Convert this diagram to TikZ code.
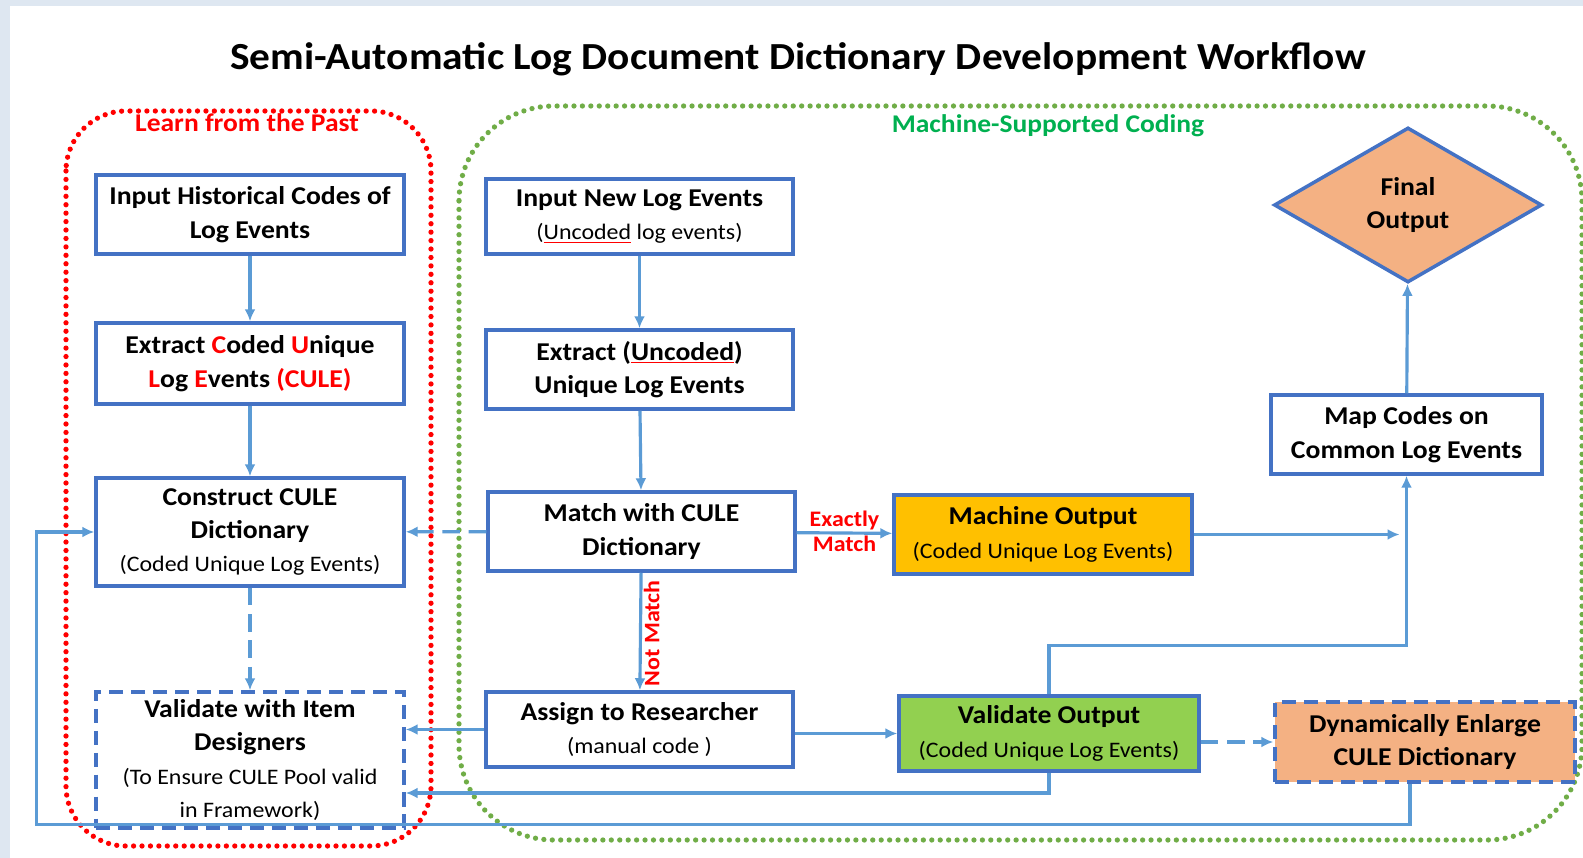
\documentclass[tikz,border=0pt]{standalone}
\usepackage{fontspec}
\setmainfont{Carlito}[FakeStretch=1.08]
\usetikzlibrary{arrows.meta,shapes.geometric,positioning,calc}
\definecolor{BoxLine}{HTML}{4472C4}
\definecolor{Wire}{HTML}{5B9BD5}
\definecolor{MachineFill}{HTML}{FFC000}
\definecolor{ValidFill}{HTML}{92D050}
\definecolor{EnlargeFill}{HTML}{F4B183}
\definecolor{PastRed}{HTML}{FF0000}
\definecolor{CodingGreen}{HTML}{00B050}
\definecolor{DotGreen}{HTML}{70AD47}
\definecolor{Frame}{HTML}{DEE7F1}
\newcommand{\subline}[1]{{\fontsize{12.6}{17}\selectfont\mdseries #1}}
\newcommand{\spellmark}[1]{\textcolor{PastRed}{\underline{\textcolor{black}{#1}}}}

\begin{document}
\begin{tikzpicture}[
    x=0.02cm, y=-0.02cm,
    proc/.style={draw=BoxLine, line width=2pt, fill=white, rectangle,
      minimum width=6.16cm, minimum height=1.58cm, inner sep=2pt, align=center,
      font=\bfseries\fontsize{14.6}{19}\selectfont},
    dproc/.style={proc, dash pattern=on 8pt off 4.5pt},
    decision/.style={draw=BoxLine, line width=2pt, diamond, fill=EnlargeFill, align=center,
      minimum width=5.36cm, minimum height=3.1cm, inner sep=0pt,
      font=\bfseries\fontsize{14.6}{19}\selectfont},
    wire/.style={draw=Wire, line width=1.8pt, -{Latex[length=2.4mm,width=2.2mm]}},
    dwire/.style={wire, dash pattern=on 10pt off 5pt},
    tag/.style={text=PastRed, font=\bfseries\fontsize{12.6}{14}\selectfont, inner sep=1pt},
    group/.style={line width=3pt, dash pattern=on 0pt off 4.8pt, line cap=round}
    ]

    \useasboundingbox (0,0) rectangle (1583,858);
    \fill[Frame] (0,0) rectangle (1583,858);
    \fill[white] (10,6) rectangle (1583,858);

    \node[font=\bfseries\fontsize{21.8}{26}\selectfont] (title) at (798,59)
      {Semi-Automatic Log Document Dictionary Development Workflow};

    % the two groups
    \draw[group, PastRed, rounded corners=1.2cm] (66,111) rectangle (431,846);
    \draw[group, DotGreen, rounded corners=1.9cm] (459,106) rectangle (1582,840);
    \node[text=PastRed, font=\bfseries\fontsize{14.5}{16}\selectfont] (pastlabel) at (247,123) {Learn from the Past};
    \node[text=CodingGreen, font=\bfseries\fontsize{14.5}{16}\selectfont] (codinglabel) at (1048,126) {Machine-Supported Coding};

    % left column
    \node[proc] (history) at (250,214.5) {Input Historical Codes of\\Log Events};
    \node[proc, minimum height=1.62cm] (extractcule) at (250,363.5) {Extract \textcolor{PastRed}{C}oded \textcolor{PastRed}{U}nique\\\textcolor{PastRed}{L}og \textcolor{PastRed}{E}vents \textcolor{PastRed}{(CULE)}};
    \node[proc, minimum height=2.16cm] (construct) at (250,532) {Construct CULE\\Dictionary\\\subline{(Coded Unique Log Events)}};
    \node[dproc, minimum height=2.72cm] (designers) at (250,760) {Validate with Item\\Designers\\\subline{(To Ensure CULE Pool valid}\\\subline{in Framework)}};

    % middle column
    \node[proc, minimum width=6.14cm, minimum height=1.5cm] (newlog) at (639.5,216.5) {Input New Log Events\\\subline{(\spellmark{Uncoded} log events)}};
    \node[proc, minimum width=6.14cm] (extractnew) at (639.5,369.5) {Extract (\spellmark{Uncoded})\\Unique Log Events};
    \node[proc, minimum width=6.14cm] (match) at (641.5,531.5) {Match with CULE\\Dictionary};
    \node[proc, minimum width=6.14cm, minimum height=1.5cm] (assign) at (639.5,729.5) {Assign to Researcher\\\subline{(manual code )}};

    % right part
    \node[proc, fill=MachineFill, minimum width=5.96cm] (machine) at (1043,534.5) {Machine Output\\\subline{(Coded Unique Log Events)}};
    \node[proc, fill=ValidFill, minimum width=6cm, minimum height=1.5cm] (validate) at (1049,733.5) {Validate Output\\\subline{(Coded Unique Log Events)}};
    \node[dproc, fill=EnlargeFill, minimum width=6cm, minimum height=1.6cm] (enlarge) at (1425,742) {Dynamically Enlarge\\CULE Dictionary};
    \node[proc, minimum width=5.42cm] (mapcodes) at (1406.5,434.5) {Map Codes on\\Common Log Events};
    \node[decision] (final) at (1408,205) {Final\\Output};

    \draw[wire] (history) -- (extractcule);
    \draw[wire] (extractcule) -- (construct);
    \draw[dwire] (construct) -- (designers);
    \draw[wire] (newlog) -- (extractnew);
    \draw[wire] (extractnew) -- (match);
    \draw[dwire] (match) -- (construct);
    \draw[wire] (match) -- node[tag, above] {Exactly} node[tag, below] {Match} (machine);
    \draw[wire] (match) -- node[tag, midway, rotate=90, anchor=north, xshift=-1pt] {Not Match} (assign);
    \draw[wire] (assign.west) -- (assign.west -| designers.east);
    \draw[wire] (validate.west -| assign.east) -- (validate.west);
    \draw[wire] (machine.east) -- ($(machine.east -| mapcodes.south)+(-7,0)$);
    \draw[wire] (validate.north) -- ++(0,-49) -| (mapcodes.south);
    \draw[wire] (mapcodes) -- (final);
    \draw[dwire] (enlarge.west -| validate.east) -- (enlarge.west);
    \draw[wire] (validate.south) |- ($(designers.east)+(0,33)$);
    \draw[wire] ($(enlarge.south)+(-15,0)$) -- ++(0,41) -| ($(construct.west)+(-58,0)$) -- (construct.west);
\end{tikzpicture}
\end{document}
